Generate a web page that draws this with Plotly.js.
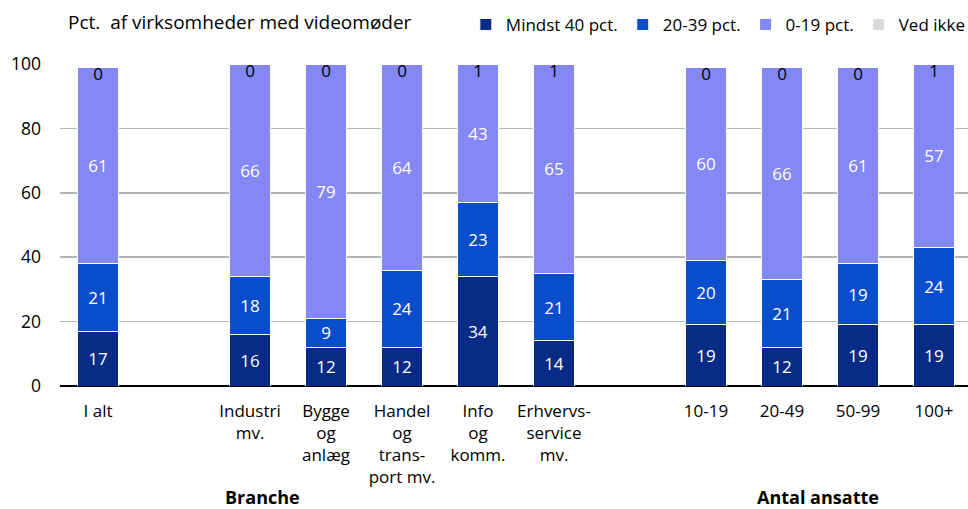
<!DOCTYPE html>
<html>
<head>
<meta charset="utf-8">
<script src="https://cdn.plot.ly/plotly-3.0.1.min.js"></script>
<style>
  html, body { margin: 0; padding: 0; overflow: hidden; background: #fff; }
  #chart { width: 1000px; height: 509px; }
</style>
</head>
<body>
<div id="chart"></div>
<script>
// categories incl. two empty spacer slots
const categories = ['I alt', 'sp1', 'Industri<br>mv.', 'Bygge<br>og<br>anlæg', 'Handel<br>og<br>trans-<br>port mv.',
    'Info<br>og<br>komm.', 'Erhvervs-<br>service<br>mv.', 'sp2', '10-19', '20-49', '50-99', '100+'];

const mindst40 = [17, null, 16, 12, 12, 34, 14, null, 19, 12, 19, 19];
const pct20_39 = [21, null, 18, 9, 24, 23, 21, null, 20, 21, 19, 24];
const pct0_19 = [61, null, 66, 79, 64, 43, 65, null, 60, 66, 61, 57];
const vedIkke = [0, null, 0, 0, 0, 1, 1, null, 0, 0, 0, 1];

const colors = ['#082c86', '#0a4dcc', '#8488f4', '#d9d9d9'];
const font = 'Open Sans, sans-serif';

const realCats = categories.filter(c => !c.startsWith('sp'));

function barTrace(name, values, color, showText) {
    return {
        type: 'bar',
        name: name,
        x: categories,
        y: values,
        marker: { color: color, line: { color: '#ffffff', width: 1 } },
        text: showText ? values.map(v => v === null ? '' : String(v)) : undefined,
        textposition: showText ? 'inside' : 'none',
        insidetextanchor: 'middle',
        textangle: 0,
        constraintext: 'none',
        textfont: { color: '#ffffff', size: 17, family: font },
        hoverinfo: 'skip'
    };
}

// labels for "Ved ikke" sit just under the top of each bar
const totals = categories.map((c, i) => mindst40[i] === null ? null :
    Math.min(100, mindst40[i] + pct20_39[i] + pct0_19[i] + vedIkke[i]));

const data = [
    barTrace('Mindst 40 pct.', mindst40, colors[0], true),
    barTrace('20-39 pct.', pct20_39, colors[1], true),
    barTrace('0-19 pct.', pct0_19, colors[2], true),
    barTrace('Ved ikke', vedIkke, colors[3], false),
    {
        type: 'scatter',
        mode: 'text',
        x: categories,
        y: totals,
        text: vedIkke.map(v => v === null ? '' : String(v)),
        textposition: 'bottom center',
        textfont: { color: '#000000', size: 17, family: font },
        showlegend: false,
        hoverinfo: 'skip',
        cliponaxis: false
    }
];

const layout = {
    width: 1000,
    height: 509,
    margin: { l: 60, r: 28, t: 64, b: 123 },
    barmode: 'stack',
    bargap: 0.45,
    paper_bgcolor: '#ffffff',
    plot_bgcolor: '#ffffff',
    font: { family: font, size: 17, color: '#000000' },
    showlegend: true,
    legend: {
        orientation: 'h',
        xref: 'paper', x: 0.445, xanchor: 'left',
        yref: 'container', y: 0.951, yanchor: 'middle',
        traceorder: 'normal',
        font: { size: 17, family: font },
        itemclick: false
    },
    xaxis: {
        type: 'category',
        categoryorder: 'array',
        categoryarray: categories,
        tickvals: realCats,
        ticktext: realCats,
        ticks: '',
        showgrid: false,
        showline: false,
        zeroline: false,
        range: [-0.5, 11.5],
        tickfont: { size: 17, family: font },
        ticklabelstandoff: 13
    },
    yaxis: {
        range: [0, 100],
        tickvals: [0, 20, 40, 60, 80, 100],
        showgrid: true,
        gridcolor: '#b4b4b4',
        gridwidth: 1.5,
        zeroline: true,
        zerolinecolor: '#000000',
        zerolinewidth: 2,
        ticks: '',
        tickfont: { size: 17.5, family: font },
        ticklabelstandoff: 18
    },
    annotations: [
        {
            text: 'Pct.  af virksomheder med videomøder',
            xref: 'paper', yref: 'paper',
            x: 0.0066, y: 1.13, xanchor: 'left', yanchor: 'middle',
            showarrow: false,
            font: { size: 19, family: font }
        },
        {
            text: '<b>Branche</b>',
            xref: 'paper', yref: 'paper',
            x: 0.2215, y: -0.345, xanchor: 'center', yanchor: 'middle',
            showarrow: false,
            font: { size: 18, family: font }
        },
        {
            text: '<b>Antal ansatte</b>',
            xref: 'paper', yref: 'paper',
            x: 0.831, y: -0.345, xanchor: 'center', yanchor: 'middle',
            showarrow: false,
            font: { size: 18, family: font }
        }
    ]
};

Plotly.newPlot('chart', data, layout, { displayModeBar: false, staticPlot: true });
</script>
</body>
</html>
